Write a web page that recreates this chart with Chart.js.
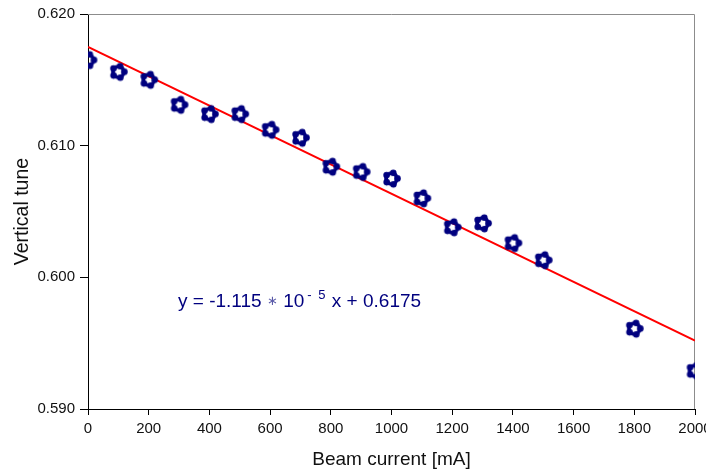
<!DOCTYPE html>
<html>
<head>
<meta charset="utf-8">
<script src="https://cdn.jsdelivr.net/npm/chart.js@4.4.1/dist/chart.umd.min.js"></script>
<style>
  html, body { margin: 0; padding: 0; background: #fff; overflow: hidden; }
  #wrap { width: 706px; height: 471px; }
</style>
</head>
<body>
<div id="wrap"><canvas id="tuneChart" width="706" height="471"></canvas></div>
<script>
// beam current [mA] and measured vertical tune
const current = [0, 100, 200, 300, 400, 500, 600, 700, 800, 900, 1000, 1100, 1200, 1300, 1400, 1500, 1800, 2000];
const tune = [0.6165, 0.6156, 0.6150, 0.6131, 0.6124, 0.6124, 0.6112, 0.6106, 0.6084, 0.6080, 0.6075, 0.6060, 0.6038, 0.6041, 0.6026, 0.6013, 0.5961, 0.5929];

// linear fit y = -1.115e-5 x + 0.6175, end points
const fitX = [0, 2000];
const fitY = [0.6175, 0.5952];

const xTicks = [0, 200, 400, 600, 800, 1000, 1200, 1400, 1600, 1800, 2000];
const yTicks = [0.590, 0.600, 0.610, 0.620];

const navy = '#00007f';
const fontFam = "'Liberation Sans', Arial, Helvetica, sans-serif";

// flower-like marker
const makeMarker = () => {
  const c = document.createElement('canvas');
  c.width = 21; c.height = 21;
  const g = c.getContext('2d');
  g.fillStyle = navy;
  g.strokeStyle = navy;
  g.lineWidth = 3.8;
  g.beginPath();
  g.arc(10.5, 10.5, 5.4, 0, Math.PI * 2);
  g.stroke();
  for (let i = 0; i < 5; i++) {
    const a = -Math.PI / 2 + i * 2 * Math.PI / 5 + 0.3;
    g.beginPath();
    g.arc(10.5 + 6 * Math.cos(a), 10.5 + 6 * Math.sin(a), 3.3, 0, Math.PI * 2);
    g.fill();
  }
  return c;
};
const marker = makeMarker();

const frameAndText = {
  id: 'frameAndText',
  beforeDatasetsDraw(chart) {
    const { ctx, chartArea: a } = chart;
    ctx.save();
    ctx.strokeStyle = '#8c8c8c';
    ctx.lineWidth = 1;
    ctx.beginPath();
    ctx.moveTo(a.left, a.top + 0.5);
    ctx.lineTo(a.right - 0.5, a.top + 0.5);
    ctx.lineTo(a.right - 0.5, a.bottom);
    ctx.stroke();
    ctx.restore();
  },
  afterDraw(chart) {
    const { ctx, chartArea: a } = chart;
    ctx.save();
    ctx.fillStyle = navy;
    ctx.textBaseline = 'alphabetic';
    let x = a.left + 90;
    const y = a.top + 293;
    ctx.font = '19px ' + fontFam;
    const p1 = 'y = -1.115 ';
    ctx.fillText(p1, x, y);
    x += ctx.measureText(p1).width;
    ctx.font = '13px ' + fontFam;
    ctx.fillStyle = '#5a5aa8';
    ctx.fillText('\u2217', x, y - 2);
    x += ctx.measureText('\u2217').width;
    ctx.fillStyle = navy;
    ctx.font = '19px ' + fontFam;
    ctx.fillText(' 10', x, y);
    x += ctx.measureText(' 10').width + 3;
    ctx.font = '13px ' + fontFam;
    ctx.fillText('-', x, y - 8);
    x += 11;
    ctx.fillText('5', x, y - 8);
    x += ctx.measureText('5').width + 1;
    ctx.font = '19px ' + fontFam;
    ctx.fillText(' x + 0.6175', x, y);
    ctx.restore();
  },
};

const ctx = document.getElementById('tuneChart').getContext('2d');

new Chart(ctx, {
  type: 'scatter',
  data: {
    datasets: [
      {
        label: 'fit',
        type: 'line',
        data: fitX.map((x, i) => ({ x: x, y: fitY[i] })),
        borderColor: '#ff0000',
        borderWidth: 2,
        pointRadius: 0,
        fill: false,
        clip: 0,
        order: 2,
      },
      {
        label: 'Vertical tune',
        data: current.map((x, i) => ({ x: x, y: tune[i] })),
        pointStyle: marker,
        pointRadius: 10,
        clip: 0,
        order: 1,
      },
    ],
  },
  options: {
    responsive: false,
    animation: false,
    layout: { padding: { top: 12, right: 11, bottom: 0, left: 0 } },
    plugins: {
      legend: { display: false },
      tooltip: { enabled: false },
    },
    scales: {
      x: {
        type: 'linear',
        min: 0,
        max: 2000,
        afterBuildTicks: (s) => { s.ticks = xTicks.map(v => ({ value: v })); },
        afterFit: (s) => { s.height = 62; s.paddingLeft = 0; s.paddingRight = 0; },
        grid: { drawOnChartArea: false, drawTicks: true, tickLength: 6, color: '#000', tickColor: '#000' },
        border: { display: true, color: '#000', width: 1 },
        ticks: {
          color: '#111',
          font: { family: fontFam, size: 15 },
          padding: 5,
          maxRotation: 0,
          autoSkip: false,
          callback: (v) => String(v),
        },
        title: {
          display: true,
          text: 'Beam current [mA]',
          color: '#111',
          font: { family: fontFam, size: 19 },
          padding: { top: 0, bottom: 0 },
        },
      },
      y: {
        type: 'linear',
        min: 0.59,
        max: 0.62,
        afterBuildTicks: (s) => { s.ticks = yTicks.map(v => ({ value: v })); },
        afterFit: (s) => { s.width = 88; },
        grid: { drawOnChartArea: false, drawTicks: true, tickLength: 8, color: '#000', tickColor: '#000' },
        border: { display: true, color: '#000', width: 1 },
        ticks: {
          color: '#111',
          font: { family: fontFam, size: 15 },
          padding: 5,
          callback: (v) => Number(v).toFixed(3),
        },
        title: {
          display: true,
          text: 'Vertical tune',
          color: '#111',
          font: { family: fontFam, size: 19.5 },
          padding: { top: 11, bottom: 0 },
        },
      },
    },
  },
  plugins: [frameAndText],
});
</script>
</body>
</html>
